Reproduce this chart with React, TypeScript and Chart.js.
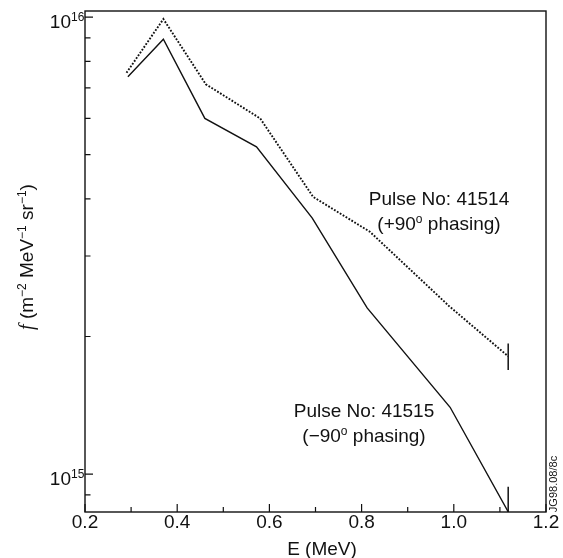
import React, { useEffect, useRef } from 'react';
import { Chart, registerables } from 'chart.js';

Chart.register(...registerables);

// ---- data ----
const energy41514 = [0.29, 0.37, 0.462, 0.58, 0.695, 0.818, 0.99, 1.118];
const flux41514 = [7.55e15, 9.9e15, 7.13e15, 6.0e15, 4.04e15, 3.39e15, 2.33e15, 1.81e15];
const energy41515 = [0.293, 0.37, 0.46, 0.572, 0.693, 0.812, 0.992, 1.118];
const flux41515 = [7.4e15, 8.94e15, 6.0e15, 5.2e15, 3.63e15, 2.31e15, 1.4e15, 8.27e14];

const errorEnergy = [1.118, 1.118];
const errorLow = [1.69e15, 7.5e14];
const errorHigh = [1.93e15, 9.38e14];

const xMajorTicks = [0.2, 0.4, 0.6, 0.8, 1.0, 1.2];
const xTickLabels = ['0.2', '0.4', '0.6', '0.8', '1.0', '1.2'];
const xMinorTicks = [0.3, 0.5, 0.7, 0.9, 1.1];
const yMajorTicks = [1e15, 1e16];
const yTickExponents = ['15', '16'];
const yMinorTicks = [9e14, 2e15, 3e15, 4e15, 5e15, 6e15, 7e15, 8e15, 9e15];

const xTitle = 'E (MeV)';
const pulseA = 'Pulse No: 41514';
const pulseB = 'Pulse No: 41515';
const sideCode = 'JG98.08/8c';

const FAMILY = '"Liberation Sans", Arial, Helvetica, sans-serif';
const MAIN = `19px ${FAMILY}`;
const SUP = `12px ${FAMILY}`;

type Seg = { text: string; sup?: boolean; font?: string };

function drawRich(ctx: CanvasRenderingContext2D, segs: Seg[], x: number, y: number, align: 'left' | 'center' | 'right', raise = 7) {
  let total = 0;
  const widths = segs.map((s) => {
    ctx.font = s.font || (s.sup ? SUP : MAIN);
    const w = ctx.measureText(s.text).width;
    total += w;
    return w;
  });
  let cx = align === 'left' ? x : align === 'center' ? x - total / 2 : x - total;
  ctx.textAlign = 'left';
  ctx.textBaseline = 'alphabetic';
  segs.forEach((s, i) => {
    ctx.font = s.font || (s.sup ? SUP : MAIN);
    ctx.fillText(s.text, cx, s.sup ? y - raise : y);
    cx += widths[i];
  });
}

const decorPlugin = {
  id: 'decor',
  afterDatasetsDraw(chart: any) {
    const ctx: CanvasRenderingContext2D = chart.ctx;
    const { left, right, top, bottom } = chart.chartArea;
    const xs = chart.scales.x;
    const ys = chart.scales.y;
    ctx.save();
    ctx.strokeStyle = '#111';
    ctx.fillStyle = '#111';

    // error bars
    ctx.lineWidth = 1.5;
    ctx.save();
    ctx.beginPath();
    ctx.rect(left, top, right - left, bottom - top);
    ctx.clip();
    errorEnergy.forEach((e, i) => {
      const px = xs.getPixelForValue(e);
      ctx.beginPath();
      ctx.moveTo(px, ys.getPixelForValue(errorLow[i]));
      ctx.lineTo(px, ys.getPixelForValue(errorHigh[i]));
      ctx.stroke();
    });
    ctx.restore();

    // frame
    ctx.lineWidth = 1.4;
    ctx.strokeRect(left, top, right - left, bottom - top);

    // ticks (inward)
    ctx.lineWidth = 1.2;
    ctx.beginPath();
    xMajorTicks.forEach((v) => {
      const px = xs.getPixelForValue(v);
      ctx.moveTo(px, bottom);
      ctx.lineTo(px, bottom - 8);
    });
    xMinorTicks.forEach((v) => {
      const px = xs.getPixelForValue(v);
      ctx.moveTo(px, bottom);
      ctx.lineTo(px, bottom - 5);
    });
    yMajorTicks.forEach((v) => {
      const py = ys.getPixelForValue(v);
      ctx.moveTo(left, py);
      ctx.lineTo(left + 8, py);
    });
    yMinorTicks.forEach((v) => {
      const py = ys.getPixelForValue(v);
      ctx.moveTo(left, py);
      ctx.lineTo(left + 5.5, py);
    });
    ctx.stroke();

    // x tick labels
    ctx.font = MAIN;
    ctx.textAlign = 'center';
    ctx.textBaseline = 'alphabetic';
    xMajorTicks.forEach((v, i) => {
      ctx.fillText(xTickLabels[i], xs.getPixelForValue(v), bottom + 16);
    });

    // y tick labels 10^n
    yMajorTicks.forEach((v, i) => {
      const py = ys.getPixelForValue(v);
      ctx.font = MAIN;
      ctx.textAlign = 'right';
      ctx.fillText('10', left - 14, py + 10.5);
      ctx.font = SUP;
      ctx.textAlign = 'left';
      ctx.fillText(yTickExponents[i], left - 14, py + 3.5);
    });

    // x title
    ctx.font = MAIN;
    ctx.textAlign = 'center';
    ctx.fillText(xTitle, 322, 555);

    // y title (rotated)
    ctx.save();
    ctx.translate(33, 257);
    ctx.rotate(-Math.PI / 2);
    drawRich(ctx, [
      { text: 'f', font: `italic 20px "Liberation Serif", "Times New Roman", serif` },
      { text: ' (m' },
      { text: '\u22122', sup: true },
      { text: ' MeV' },
      { text: '\u22121', sup: true },
      { text: ' sr' },
      { text: '\u22121', sup: true },
      { text: ')' },
    ], 0, 0, 'center', 7);
    ctx.restore();

    // annotations
    drawRich(ctx, [{ text: pulseA }], 439, 205, 'center');
    drawRich(ctx, [{ text: '(+90' }, { text: 'o', sup: true }, { text: ' phasing)' }], 439, 230, 'center', 7);
    drawRich(ctx, [{ text: pulseB }], 364, 417, 'center');
    drawRich(ctx, [{ text: '(\u221290' }, { text: 'o', sup: true }, { text: ' phasing)' }], 364, 442, 'center', 7);

    // side code
    ctx.save();
    ctx.translate(557, 484);
    ctx.rotate(-Math.PI / 2);
    ctx.font = `11px ${FAMILY}`;
    ctx.textAlign = 'center';
    ctx.textBaseline = 'alphabetic';
    ctx.fillText(sideCode, 0, 0);
    ctx.restore();

    ctx.restore();
  },
};

export default function App() {
  const ref = useRef<HTMLCanvasElement | null>(null);
  useEffect(() => {
    if (!ref.current) return;
    const chart = new Chart(ref.current, {
      type: 'line',
      data: {
        datasets: [
          {
            label: pulseA,
            data: energy41514.map((e, i) => ({ x: e, y: flux41514[i] })),
            borderColor: '#111',
            borderWidth: 1.9,
            borderDash: [1.8, 1.6],
            pointRadius: 0,
            tension: 0,
            fill: false,
          },
          {
            label: pulseB,
            data: energy41515.map((e, i) => ({ x: e, y: flux41515[i] })),
            borderColor: '#111',
            borderWidth: 1.4,
            pointRadius: 0,
            tension: 0,
            fill: false,
          },
        ],
      },
      options: {
        responsive: false,
        animation: false,
        devicePixelRatio: 1,
        layout: { padding: { left: 85, top: 11, right: 17, bottom: 46 } },
        plugins: { legend: { display: false }, tooltip: { enabled: false } },
        scales: {
          x: { type: 'linear', min: 0.2, max: 1.2, display: false },
          y: { type: 'logarithmic', min: 8.26e14, max: 1.031e16, display: false },
        },
      },
      plugins: [decorPlugin],
    });
    return () => chart.destroy();
  }, []);
  return (
    <div style={{ position: 'absolute', left: 0, top: 0, width: 563, height: 558, background: '#fff' }}>
      <canvas ref={ref} width={563} height={558} style={{ display: 'block' }} />
    </div>
  );
}
